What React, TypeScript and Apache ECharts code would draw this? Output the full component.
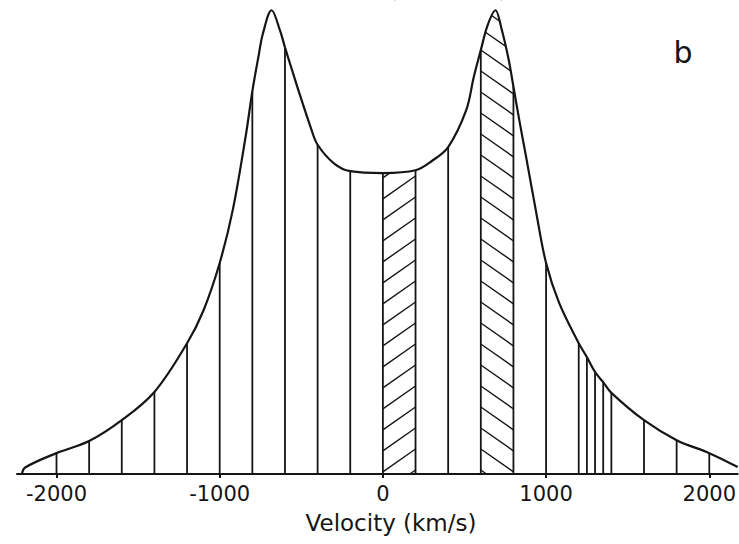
import React, { useEffect, useRef } from "react";
import * as echarts from "echarts";

// Line profile (velocity in km/s, relative flux, peak = 100)
const velocity = [
  -2212, -2192, -2000, -1800, -1600, -1400, -1200, -1100, -1000, -920, -840, -800,
  -760, -735, -682, -630, -600, -560, -520, -440, -400, -300, -200, 0, 200, 300, 400,
  510, 557, 600, 642, 690, 725, 770, 800, 840, 877, 940, 1000, 1080, 1200, 1250, 1300,
  1350, 1400, 1600, 1800, 2000, 2174,
];
const flux = [
  0, 1.4, 4.5, 7.1, 11.6, 17.7, 28.2, 35.2, 45.5, 56.9, 73.0, 82.5,
  90.5, 95.0, 100, 95.6, 92.0, 87.5, 83.0, 74.5, 71.0, 67.0, 65.3, 64.9, 65.5, 67.5, 70.5,
  78.4, 85.6, 91.4, 96.8, 100, 96.3, 89.5, 83.5, 75.5, 68.5, 56.3, 45.5, 36.9, 28.2, 25.2, 22.0,
  19.8, 17.5, 11.6, 7.3, 4.5, 1.5,
];

// Vertical slice boundaries drawn under the profile
const sliceLines = [
  -2000, -1800, -1600, -1400, -1200, -1000, -800, -600, -400, -200, 0, 200, 400, 600,
  800, 1000, 1200, 1250, 1300, 1350, 1400, 1600, 1800, 2000,
];

// Hatched bins: [from, to, direction] (1 = "/", -1 = "\")
const hatchFrom = [0, 600];
const hatchTo = [200, 800];
const hatchDir = [1, -1];

const tickLabels = [-2000, -1000, 0, 1000, 2000];
const axisTitle = "Velocity (km/s)";
const panelLetter = "b";

const INK = "#151515";

export default function App() {
  const ref = useRef<HTMLDivElement>(null);

  useEffect(() => {
    document.body.style.margin = "0";
    if (!ref.current) return;
    const chart = echarts.init(ref.current, null, { renderer: "svg" });

    const profile = velocity.map((v, i) => [v, flux[i]]);
    const lookup = (v: number) => flux[velocity.indexOf(v)];
    const lines = sliceLines.map((v) => [v, lookup(v)]);
    const hatch = hatchFrom.map((f, i) => [f, hatchTo[i], hatchDir[i]]);
    const YMAX = 102;

    chart.setOption({
      animation: false,
      grid: { left: 17, right: 0, top: 1, bottom: 70 },
      xAxis: {
        type: "value",
        min: -2242,
        max: 2174,
        axisLine: { lineStyle: { color: INK, width: 2 } },
        axisTick: {
          customValues: tickLabels,
          length: 4,
          lineStyle: { color: INK, width: 2 },
        },
        axisLabel: {
          customValues: tickLabels,
          formatter: (v: number) => String(v),
          fontSize: 21,
          color: INK,
          fontFamily: "DejaVu Sans",
          margin: 9,
        },
        splitLine: { show: false },
      },
      yAxis: {
        type: "value",
        min: 0,
        max: YMAX,
        show: false,
        splitLine: { show: false },
      },
      series: [
        {
          type: "custom",
          z: 1,
          data: hatch,
          encode: { x: [0, 1] },
          renderItem: (params: any, api: any) => {
            const from = api.value(0);
            const to = api.value(1);
            const dir = api.value(2);
            const L = api.coord([from, 0])[0];
            const R = api.coord([to, 0])[0];
            const B = api.coord([from, 0])[1];
            const T = api.coord([from, YMAX])[1];
            const m = 0.7;
            const s = 21;
            const W = R - L;
            const children: any[] = [];
            for (let k = -2; k < 60; k++) {
              const c = B + (dir > 0 ? m * W : 0) - k * s - 4;
              let xa: number, xb: number;
              if (dir > 0) {
                xa = Math.max(L, L + (c - B) / m);
                xb = Math.min(R, L + (c - T) / m);
              } else {
                xa = Math.max(L, L + (T - c) / m);
                xb = Math.min(R, L + (B - c) / m);
              }
              if (xb - xa > 0.5) {
                const ya = dir > 0 ? c - m * (xa - L) : c + m * (xa - L);
                const yb = dir > 0 ? c - m * (xb - L) : c + m * (xb - L);
                children.push({
                  type: "line",
                  shape: { x1: xa, y1: ya, x2: xb, y2: yb },
                  style: { stroke: INK, lineWidth: 1.4 },
                });
              }
            }
            return { type: "group", children };
          },
        },
        {
          type: "custom",
          z: 1,
          data: lines,
          encode: { x: 0, y: 1 },
          renderItem: (params: any, api: any) => {
            const v = api.value(0);
            const f = api.value(1);
            const p0 = api.coord([v, 0]);
            const p1 = api.coord([v, f]);
            return {
              type: "line",
              shape: { x1: p0[0], y1: p0[1], x2: p1[0], y2: p1[1] },
              style: { stroke: INK, lineWidth: 1.8 },
            };
          },
        },
        {
          type: "line",
          z: 3,
          data: profile,
          smooth: 0.35,
          showSymbol: false,
          symbol: "none",
          lineStyle: { color: INK, width: 2.2 },
          areaStyle: { color: "#ffffff", opacity: 1, origin: "end" },
        },
      ],
      graphic: [
        {
          type: "text",
          x: 391,
          y: 523,
          z: 10,
          style: {
            text: axisTitle,
            fontSize: 23,
            fontFamily: "DejaVu Sans",
            fill: INK,
            textAlign: "center",
            textVerticalAlign: "middle",
          },
        },
        {
          type: "text",
          x: 683,
          y: 52,
          z: 10,
          style: {
            text: panelLetter,
            fontSize: 30,
            fontFamily: "DejaVu Sans",
            fill: INK,
            textAlign: "center",
            textVerticalAlign: "middle",
          },
        },
      ],
    });

    return () => chart.dispose();
  }, []);

  return <div ref={ref} style={{ width: 739, height: 544 }} />;
}
